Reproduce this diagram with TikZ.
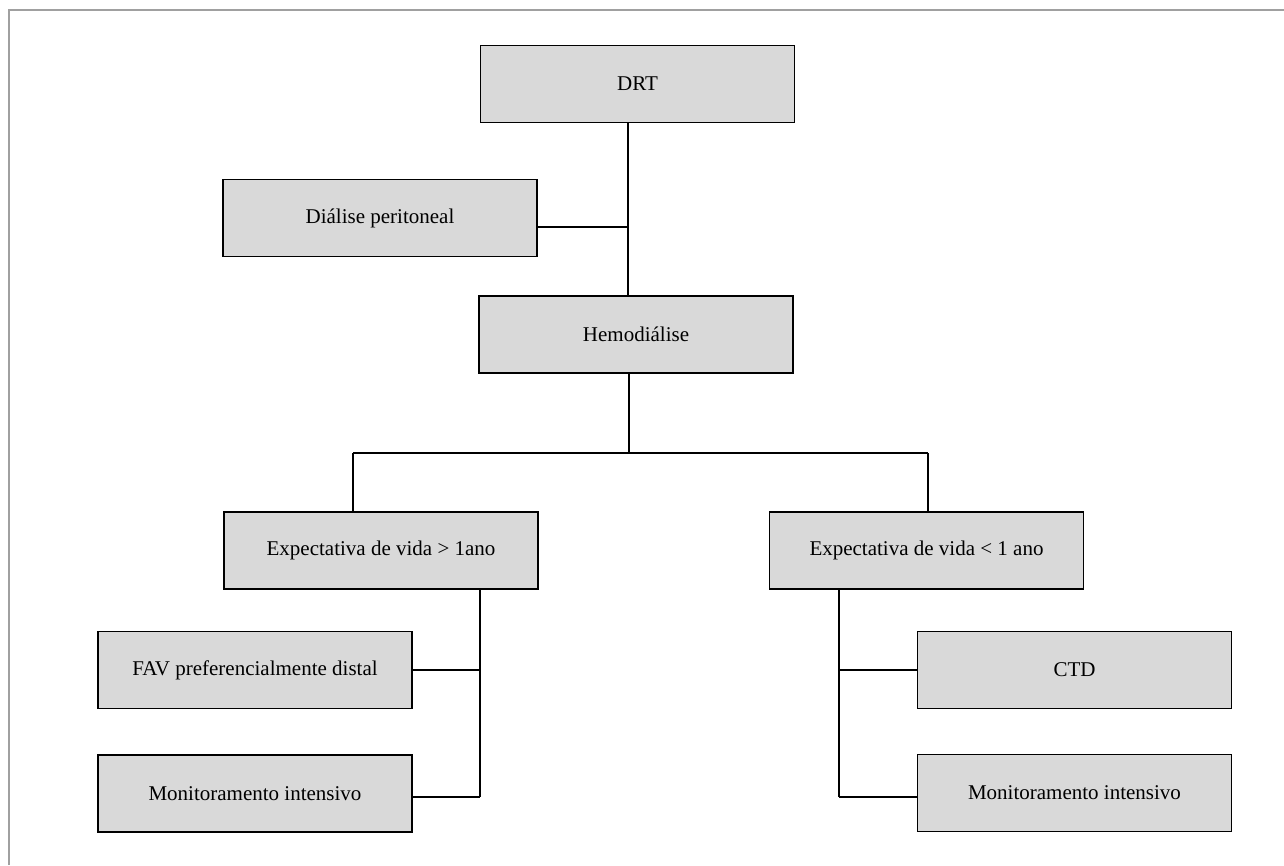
\documentclass[tikz,border=0pt]{standalone}
\usepackage{fontspec}
\setmainfont{Liberation Serif}
\definecolor{boxgray}{HTML}{D9D9D9}
\definecolor{framegray}{HTML}{A0A0A0}
\tikzset{
  box/.style={draw=black, fill=boxgray, line width=1.8pt, rectangle, minimum width=314pt, minimum height=77pt, inner sep=0pt, font=\fontsize{21}{25}\selectfont},
  conn/.style={draw=black, line width=1.8pt}
}
\begin{document}
\begin{tikzpicture}[x=1pt,y=-1pt]
\useasboundingbox (0,0) rectangle (1284,865);
\fill[white] (0,0) rectangle (1284,865);
\draw[framegray, line width=1.5pt] (9,865) -- (9,10) -- (1284,10);

\node[box] (drt) at (637.5,84) {DRT};
\node[box] (dial) at (380,218) {Diálise peritoneal};
\node[box] (hemo) at (636,334.5) {Hemodiálise};
\node[box] (expl) at (381,550.5) {Expectativa de vida > 1ano};
\node[box] (expr) at (926.5,550.5) {Expectativa de vida < 1 ano};
\node[box] (fav) at (255,670) {FAV preferencialmente distal};
\node[box] (monl) at (255,793.5) {Monitoramento intensivo};
\node[box] (ctd) at (1074.5,670) {CTD};
\node[box] (monr) at (1074.5,793) {Monitoramento intensivo};

\coordinate (jd) at (628,227);
\coordinate (bl) at (353,453);
\coordinate (bm) at (629,453);
\coordinate (br) at (928,453);
\coordinate (jl) at (480,797);
\coordinate (jr) at (839,797);

\draw[conn] (drt.south -| jd) -- (hemo.north -| jd);
\draw[conn] (dial.east |- jd) -- (jd);
\draw[conn] (hemo.south -| bm) -- (bm);
\draw[conn] (bl) -- (br);
\draw[conn] (bl) -- (expl.north -| bl);
\draw[conn] (br) -- (expr.north -| br);

\draw[conn] (expl.south -| jl) -- (jl);
\draw[conn] (fav.east) -- (fav.east -| jl);
\draw[conn] (monl.east |- jl) -- (jl);

\draw[conn] (expr.south -| jr) -- (jr);
\draw[conn] (ctd.west -| jr) -- (ctd.west);
\draw[conn] (jr) -- (monr.west |- jr);
\end{tikzpicture}
\end{document}
